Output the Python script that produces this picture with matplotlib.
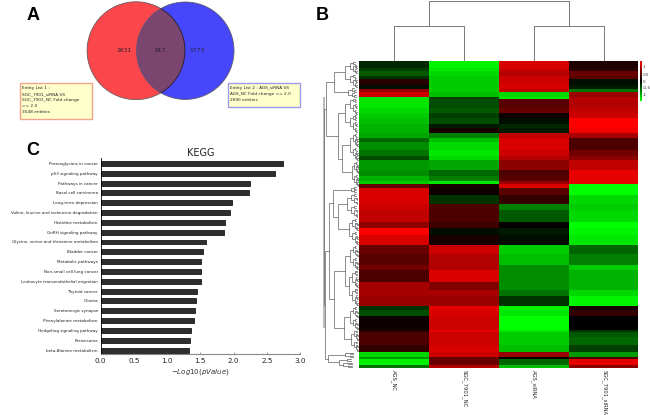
import numpy as np
import matplotlib
matplotlib.use("Agg")
import matplotlib.pyplot as plt
from matplotlib.colors import LinearSegmentedColormap
from matplotlib.patches import Circle, Rectangle

W, H = 650, 415

# panel A
venn_counts = ["2631", "917", "1773"]
list1_lines = ["Entity List 1 :", "SGC_7901_siRNA VS", "SGC_7901_NC Fold change", ">= 2.0", "3548 entities"]
list2_lines = ["Entity List 2 : AGS_siRNA VS", "AGS_NC Fold change >= 2.0", "2690 entities"]

# panel C
kegg_terms = ["Proteoglycans in cancer", "p53 signaling pathway", "Pathways in cancer",
              "Basal cell carcinoma", "Long-term depression",
              "Valine, leucine and isoleucine degradation", "Histidine metabolism",
              "GnRH signaling pathway", "Glycine, serine and threonine metabolism",
              "Bladder cancer", "Metabolic pathways", "Non-small cell lung cancer",
              "Leukocyte transendothelial migration", "Thyroid cancer", "Glioma",
              "Serotonergic synapse", "Phenylalanine metabolism",
              "Hedgehog signaling pathway", "Peroxisome", "beta-Alanine metabolism"]
kegg_values = [2.74, 2.62, 2.25, 2.23, 1.97, 1.94, 1.87, 1.85, 1.59, 1.54,
               1.51, 1.505, 1.505, 1.45, 1.44, 1.415, 1.41, 1.365, 1.35, 1.335]
kegg_ticks = [0.0, 0.5, 1.0, 1.5, 2.0, 2.5, 3.0]

# panel B
samples = ["AGS_NC", "SGC_7901_NC", "AGS_siRNA", "SGC_7901_siRNA"]
band_rows = [7, 3, 5, 3, 6, 4, 3, 5, 2, 9, 5, 5, 6, 4, 5, 5, 4, 8, 6, 4, 10, 6, 5, 3, 4,
             7, 9, 6, 12, 6, 7, 10, 9, 11, 5, 12, 8, 6, 10, 4, 6, 14, 2, 5, 8, 7, 5, 2, 6, 3]
ags_nc = [-.15, -.25, -.35, -.2, .15, -.05, .6, .8, -.9, -.9, -.85, -.8, -.75, -.7, -.7, -.65, -.4,
          -.55, -.45, -.3, -.6, -.55, -.7, -.8, .4, .85, .85, .8, .75, .55, 1, .85, .4, .35, .45,
          .3, .65, .65, .6, -.2, -.3, .05, .15, .3, .3, .2, -.85, -.6, -.95, -.45]
sgc_nc = [-.95, -.9, -.85, -.8, -.8, -.8, -.8, -.75, -.25, -.3, -.35, -.25, -.3, -.1, .1, -.5, -.75,
          -.85, -.9, -.85, -.65, -.4, -.5, -.9, .1, .05, -.2, .3, .3, .25, -.05, .1, .8, .7, .7,
          .85, .5, .65, .6, .9, .85, .8, .9, .8, .8, .85, .8, .4, .4, .7]
ags_sirna = [.85, .8, .7, .8, .8, .85, .75, -.85, -.9, .35, .4, .05, -.05, -.15, -.1, .75, .85,
             .85, .8, .7, .55, .3, .35, .6, .85, .35, .2, -.5, -.35, .02, -.1, -.05, -.8, -.75, -.55,
             -.55, -.55, -.45, -.2, -.95, -.9, -1, -.9, -.8, -.8, -.75, .6, 0, -.4, -.75]
sgc_sirna = [.12, .15, .4, .35, -.05, -.1, -.45, .6, .7, .7, .75, .8, 1, 1, .95, .65, .3,
             .3, .45, .55, .75, .9, .9, .9, -1, -1, -.85, -.8, -.85, -1, -.95, -.9, -.4, -.5, -.8,
             -.7, -.7, -.85, -.95, .1, .2, 0, -.2, -.35, -.4, -.25, -.6, .3, .9, .55]
scale_labels = ["1", "0.5", "0", "-0.5", "-1"]

# row tree: [height, child, child], or [height, rows] for a small cluster
row_tree = [35,
            [33,
             [25, [14, 27], [11, 10]],
             [21, [14, 35], [17, [9, 28], [7, 26]]]],
            [34,
             [30,
              [26, [8, 6], [21, [12, 25], [10, 27]]],
              [25, [14, [9, 25], [10, 36]], [15, [9, 24], [8, 22]]]],
             [31, [14, 6], [20, [12, 4], [16, 6]]]]]
top_tree_heights = [60, 35]


def bush(rows, height, top, ax, depth=0):
    # ladder of small merges next to the heatmap
    if rows <= 2:
        return top + rows / 2
    first = rows // 2 if depth % 2 == 0 else max(1, rows // 3)
    y1 = bush(first, height * 0.66, top, ax, depth + 1)
    y2 = bush(rows - first, height * 0.66, top + first, ax, depth + 1)
    link(ax, height, y1, height * 0.66, y2, height * 0.66)
    return (y1 + y2) / 2


def link(ax, h, y1, h1, y2, h2):
    x = 359 - h
    ax.plot([359 - h1, x, x, 359 - h2], [y1, y1, y2, y2], color="#6e6e6e", lw=0.55,
            solid_joinstyle="miter")


def draw_tree(node, top, ax):
    if len(node) == 2:
        y = bush(node[1], node[0], top, ax)
        return y, top + node[1], node[0]
    y1, next_top, h1 = draw_tree(node[1], top, ax)
    y2, next_top, h2 = draw_tree(node[2], next_top, ax)
    link(ax, node[0], y1, h1, y2, h2)
    return (y1 + y2) / 2, next_top, node[0]


fig = plt.figure(figsize=(W / 100, H / 100), dpi=100, facecolor="white")


def px_axes(x0, y0, x1, y1):
    return fig.add_axes([x0 / W, 1 - y1 / H, (x1 - x0) / W, (y1 - y0) / H])


ov = px_axes(0, 0, W, H)
ov.set_xlim(0, W)
ov.set_ylim(H, 0)
ov.axis("off")

# panel letters
for letter, x, y in [("A", 33, 16), ("B", 322, 16), ("C", 33, 150)]:
    ov.text(x, y, letter, fontsize=13, fontweight="bold", family="Liberation Sans",
            ha="center", va="center")

# venn
red = Circle((136, 50.7), 48.9, fc="#fb474c", ec="#6e5a5a", lw=0.6)
blue = Circle((185.3, 50.7), 48.7, fc="#4646fa", ec="#5a5a6e", lw=0.6)
ov.add_patch(red)
ov.add_patch(blue)
both = Circle((136, 50.7), 48.9, fc="#7a4670", ec="#33222f", lw=0.7)
ov.add_patch(both)
both.set_clip_path(Circle((185.3, 50.7), 48.7, transform=ov.transData))
for txt, x in zip(venn_counts, [124, 160.7, 197.3]):
    ov.text(x, 51, txt, fontsize=4.3, color="#2a2030", ha="center", va="center")

ov.add_patch(Rectangle((19.7, 83.5), 72, 35.5, fc="#ffffcc", ec="#f4a48e", lw=1))
for i, line in enumerate(list1_lines):
    ov.text(22, 88.5 + i * 5.8, line, fontsize=3.1, color="#222222", va="center")
ov.add_patch(Rectangle((228, 83.5), 71.5, 24, fc="#ffffcc", ec="#9c9cea", lw=1))
for i, line in enumerate(list2_lines):
    ov.text(230, 88.5 + i * 5.6, line, fontsize=3.1, color="#222222", va="center")

# bars
ax = px_axes(100.7, 158, 300, 354)
ypos = np.arange(len(kegg_terms))
ax.barh(ypos, kegg_values, height=0.5, color="#2e2e2e", edgecolor="black", linewidth=0.5)
ax.set_xlim(0, 3)
ax.set_ylim(len(kegg_terms) - 0.6, -0.55)
ax.set_yticks(ypos)
ax.set_yticklabels(kegg_terms, fontsize=3.0, color="#222222")
ax.set_xticks(kegg_ticks)
ax.set_xticklabels(["%.1f" % t for t in kegg_ticks], fontsize=5.2, color="#222222")
ax.tick_params(axis="y", length=0, pad=2)
ax.tick_params(axis="x", length=1.5, width=0.4, direction="in", pad=3, color="#555555")
ax.spines["top"].set_visible(False)
ax.spines["right"].set_visible(False)
ax.spines["left"].set_linewidth(0.6)
ax.spines["bottom"].set_color("#888888")
ax.spines["bottom"].set_linewidth(0.8)
ax.set_xlabel(r"$-Log10(pValue)$", fontsize=5, labelpad=2, color="#333333")
ax.set_title("KEGG", fontsize=7, pad=1.5, color="#222222")

# heatmap
cmap = LinearSegmentedColormap.from_list("gbr", ["#00ff00", "#000000", "#ff0000"])
hm = px_axes(359.3, 61, 638.3, 368)
matrix = np.array([ags_nc, sgc_nc, ags_sirna, sgc_sirna]).T
edges = np.concatenate([[0], np.cumsum(band_rows)])
hm.pcolormesh(np.arange(5), edges, matrix, cmap=cmap, vmin=-1, vmax=1)
hm.set_ylim(edges[-1], 0)
hm.axis("off")

for i, name in enumerate(samples):
    ov.text(394 + i * 70, 369.5, name, fontsize=3.8, rotation=270, ha="center", va="top",
            color="#222222", clip_on=True)

# colour scale
cb = px_axes(640, 61, 642, 101)
cb.imshow(np.linspace(1, -1, 60).reshape(-1, 1), cmap=cmap, aspect="auto")
cb.axis("off")
for lab, y in zip(scale_labels, [67, 75, 82, 88, 95]):
    ov.text(643, y, lab, fontsize=3, color="#333333", va="center")

# dendrograms
draw_tree(row_tree, 61, ov)
ov.plot([323.5, 323.5], [98, 327], color="#bbbbbb", lw=1.4, zorder=0)

centers = [394 + i * 70 for i in range(4)]
mids = [(centers[0] + centers[1]) / 2, (centers[2] + centers[3]) / 2]
for (a, b), m in zip([(centers[0], centers[1]), (centers[2], centers[3])], mids):
    ov.plot([a, a, b, b], [61, 61 - top_tree_heights[1], 61 - top_tree_heights[1], 61],
            color="#777777", lw=0.7)
ov.plot([mids[0], mids[0], mids[1], mids[1]],
        [61 - top_tree_heights[1], 61 - top_tree_heights[0], 61 - top_tree_heights[0], 61 - top_tree_heights[1]],
        color="#777777", lw=0.7)

fig.savefig("out.png", dpi=100)
